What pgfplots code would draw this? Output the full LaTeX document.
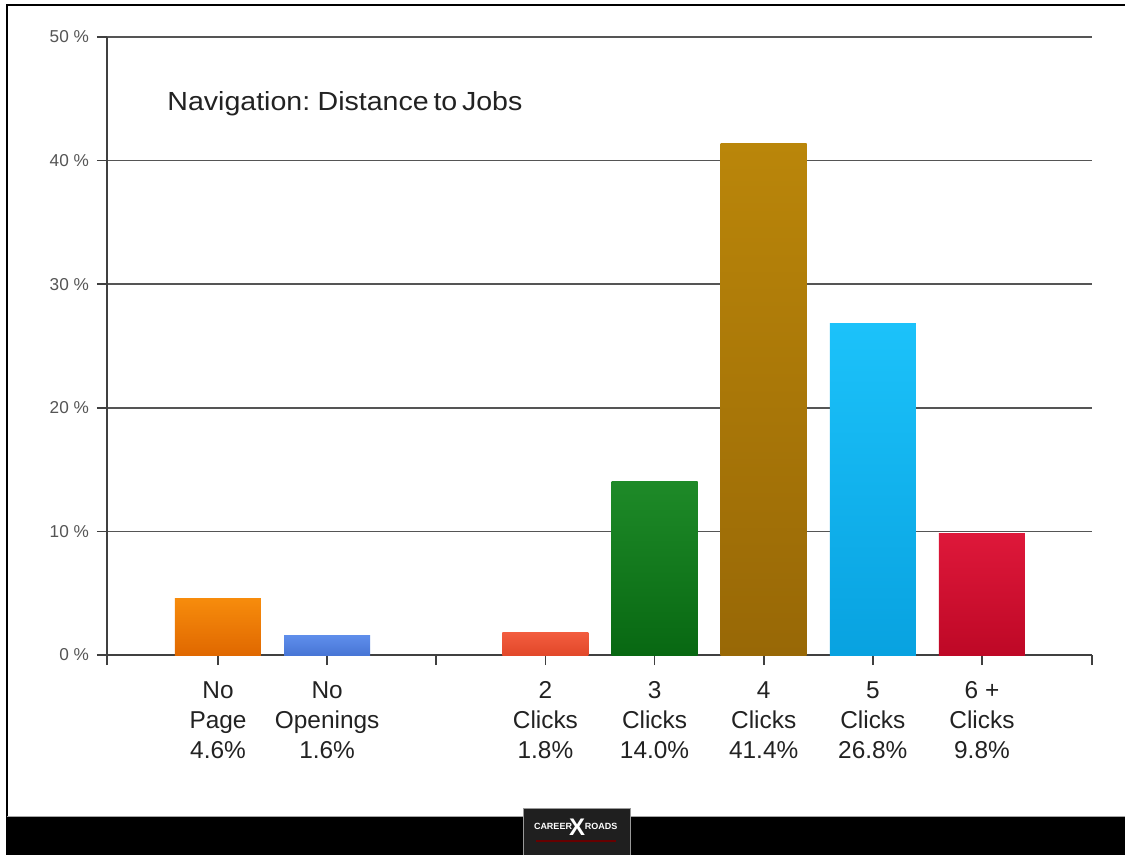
\documentclass[border=0pt]{standalone}
\usepackage{pgfplots}
\pgfplotsset{compat=1.18}
\usepackage{fontspec}
\setmainfont{Liberation Sans}
\newfontfamily\titlefont[FakeStretch=1.09, WordSpace=0.6]{Liberation Sans}
\definecolor{gridc}{HTML}{555555}
\definecolor{axc}{HTML}{404040}
\definecolor{ytc}{HTML}{555555}
\definecolor{txt}{HTML}{222222}
\begin{document}
\begin{tikzpicture}[x=1pt,y=1pt]
\useasboundingbox (0,0) rectangle (562.5,-427.5);
\fill[white] (0,0) rectangle (562.5,-427.5);
% frame
\draw[line width=1pt,black] (3.5,-408.5) -- (3.5,-2.5) -- (562.5,-2.5);
\fill[black] (3,-408.5) rectangle (562.5,-427.5);
\draw[gray!70,line width=0.6pt] (3.5,-408.2) -- (562.5,-408.2);
\begin{axis}[
  at={(53.5pt,-327.5pt)}, anchor=south west,
  scale only axis, width=492.5pt, height=309pt,
  xmin=-1.017, xmax=8.008, ymin=0, ymax=50,
  axis x line*=bottom, axis y line*=left,
  axis line style={axc, line width=0.9pt},
  ymajorgrids, grid style={gridc, line width=0.9pt},
  tick align=outside, major tick length=5pt,
  tick style={axc, line width=0.9pt},
  ytick={0,10,20,30,40,50},
  yticklabels={0 \%,10 \%,20 \%,30 \%,40 \%,50 \%},
  yticklabel style={font=\fontsize{8.6}{10}\selectfont, text=ytc, xshift=-0.5pt},
  xtick={0,1,2,3,4,5,6,7},
  xticklabels={{\strut No\\Page\\4.6\%},{\strut No\\Openings\\1.6\%},{},{\strut 2\\Clicks\\1.8\%},{\strut 3\\Clicks\\14.0\%},{\strut 4\\Clicks\\41.4\%},{\strut 5\\Clicks\\26.8\%},{\strut 6 +\\Clicks\\9.8\%}},
  xticklabel style={align=center, font=\fontsize{12.2}{15}\selectfont, text=txt, yshift=-2.5pt},
  extra x ticks={-1.017,8.008}, extra x tick labels={},
  clip=false,
]
\addplot[ybar, bar width=43pt, bar shift=0pt, draw=none, top color={rgb,255:red,247;green,140;blue,12}, bottom color={rgb,255:red,224;green,104;blue,0}] coordinates {(0,4.6)};
\addplot[ybar, bar width=43pt, bar shift=0pt, draw=none, top color={rgb,255:red,95;green,142;blue,235}, bottom color={rgb,255:red,72;green,118;blue,214}] coordinates {(1,1.6)};
\addplot[ybar, bar width=43pt, bar shift=0pt, draw=none, top color={rgb,255:red,242;green,92;blue,62}, bottom color={rgb,255:red,226;green,72;blue,42}] coordinates {(3,1.8)};
\addplot[ybar, bar width=43pt, bar shift=0pt, draw=none, top color={rgb,255:red,30;green,138;blue,40}, bottom color={rgb,255:red,8;green,104;blue,18}] coordinates {(4,14.0)};
\addplot[ybar, bar width=43pt, bar shift=0pt, draw=none, top color={rgb,255:red,186;green,134;blue,10}, bottom color={rgb,255:red,152;green,104;blue,6}] coordinates {(5,41.4)};
\addplot[ybar, bar width=43pt, bar shift=0pt, draw=none, top color={rgb,255:red,28;green,194;blue,250}, bottom color={rgb,255:red,8;green,162;blue,224}] coordinates {(6,26.8)};
\addplot[ybar, bar width=43pt, bar shift=0pt, draw=none, top color={rgb,255:red,222;green,24;blue,58}, bottom color={rgb,255:red,190;green,8;blue,38}] coordinates {(7,9.8)};
\end{axis}
\node[anchor=west, inner sep=0pt, text=txt, font=\titlefont\fontsize{13.1}{15}\selectfont] at (83.5,-52) {Navigation: Distance to Jobs};
% logo
\fill[black!88] (261.5,-404) rectangle (315,-427.5);
\draw[gray!80, line width=0.5pt] (261.5,-427.5) -- (261.5,-404) -- (315,-404) -- (315,-427.5);
\fill[red!40!black] (268,-420) rectangle (308,-421);
\node[text=white, inner sep=0pt, font=\fontsize{4.5}{5}\selectfont\bfseries] at (276.5,-413) {CAREER};
\node[text=white, inner sep=0pt, font=\fontsize{12}{12}\selectfont\bfseries] at (288.5,-413.5) {X};
\node[text=white, inner sep=0pt, font=\fontsize{4.5}{5}\selectfont\bfseries] at (300.5,-413) {ROADS};
\end{tikzpicture}
\end{document}
